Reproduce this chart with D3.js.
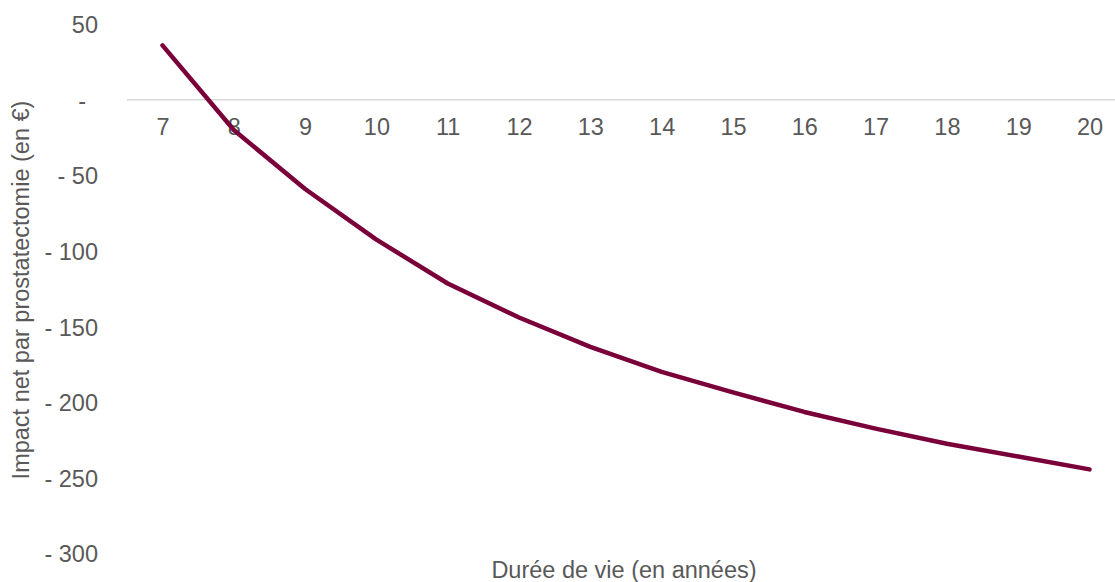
<!DOCTYPE html>
<html>
<head>
<meta charset="utf-8">
<script src="https://cdn.jsdelivr.net/npm/d3@7"></script>
<style>
  html, body { margin: 0; padding: 0; background: #fff; }
  svg { display: block; font-family: "Liberation Sans", Arial, sans-serif; }
</style>
</head>
<body>
<svg id="chart" width="1115" height="582"></svg>
<script>
// Lifetime (years) and net impact per prostatectomy (EUR)
const years = [7, 8, 9, 10, 11, 12, 13, 14, 15, 16, 17, 18, 19, 20];
const netImpact = [36, -20, -59, -92.5, -121.5, -144, -163.5, -180, -193.5, -206.5, -217.5, -227.5, -236, -244.5];
const yTicks = [50, 0, -50, -100, -150, -200, -250, -300];

const xTitle = "Durée de vie (en années)";
const yTitle = "Impact net par prostatectomie (en €)";

const svg = d3.select("#chart");
const textColor = "#595959";
const fontSize = "23.5px";

const x = d3.scalePoint()
  .domain(years)
  .range([162.5, 1089.5]);

const y = d3.scaleLinear()
  .domain([-300, 50])
  .range([553.3, 24.2]);

// Horizontal axis line at zero, extending half a step beyond the outer categories
const step = x.step();
svg.append("line")
  .attr("x1", x(years[0]) - step / 2)
  .attr("x2", x(years[years.length - 1]) + step / 2)
  .attr("y1", y(0))
  .attr("y2", y(0))
  .attr("stroke", "#d9d9d9")
  .attr("stroke-width", 1.5);

// Category labels below the zero line
const xAxis = d3.axisBottom(x).tickSize(0).tickPadding(0);
const gx = svg.append("g")
  .attr("transform", `translate(0,${y(0)})`)
  .call(xAxis);
gx.select(".domain").remove();
gx.selectAll("text")
  .attr("dy", null)
  .attr("y", 35.5)
  .attr("fill", textColor)
  .style("font-size", fontSize);

// Value axis labels in accounting style
const fmt = v => v === 0 ? "-" : (v < 0 ? "- " + Math.abs(v) : String(v));
const yAxis = d3.axisLeft(y).tickValues(yTicks).tickFormat(fmt).tickSize(0).tickPadding(0);
const gy = svg.append("g")
  .attr("transform", "translate(98,0)")
  .call(yAxis);
gy.select(".domain").remove();
gy.selectAll("text")
  .attr("fill", textColor)
  .attr("dy", "0.36em")
  .style("font-size", fontSize)
  .attr("x", d => d === 0 ? -12 : 0);

// Series line
const line = d3.line()
  .x((d, i) => x(years[i]))
  .y(d => y(d));

svg.append("path")
  .datum(netImpact)
  .attr("d", line)
  .attr("fill", "none")
  .attr("stroke", "#7a0039")
  .attr("stroke-width", 4.5)
  .attr("stroke-linejoin", "round")
  .attr("stroke-linecap", "round");

// Axis titles
svg.append("text")
  .attr("x", 624)
  .attr("y", 578)
  .attr("text-anchor", "middle")
  .attr("fill", textColor)
  .style("font-size", fontSize)
  .text(xTitle);

svg.append("text")
  .attr("transform", "translate(29,290) rotate(-90)")
  .attr("text-anchor", "middle")
  .attr("fill", textColor)
  .style("font-size", fontSize)
  .text(yTitle);
</script>
</body>
</html>
